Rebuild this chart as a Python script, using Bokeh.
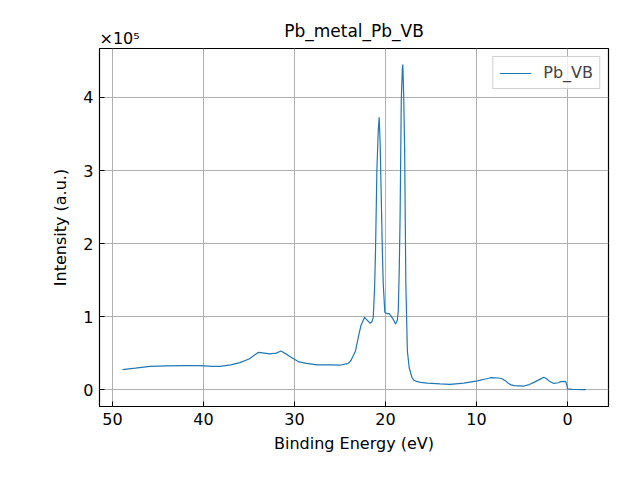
from bokeh.plotting import figure
from bokeh.models import Range1d, FixedTicker, Title, Legend, LegendItem
from bokeh.embed import file_html
from bokeh.resources import INLINE

# Binding energy (eV) and intensity (counts)
binding_energy = [48.9, 47.5, 45.9, 44.0, 42.0, 40.4, 39.0, 38.2, 37.0, 36.0, 35.0,
                  34.0, 33.3, 32.7, 32.0, 31.5, 30.8, 30.2, 29.5, 28.7, 27.5, 26.0,
                  25.0, 24.1, 23.8, 23.3, 22.9, 22.7, 22.3, 22.0, 21.7, 21.5, 21.35,
                  21.2, 21.1, 20.95, 20.8, 20.7, 20.6, 20.5, 20.35, 20.25, 20.08,
                  19.8, 19.6, 19.3, 19.1, 18.9, 18.7, 18.6, 18.5, 18.4, 18.27, 18.15,
                  18.1, 18.0, 17.9, 17.77, 17.6, 17.4, 17.1, 16.9, 16.5, 16.15, 15.4,
                  14.0, 12.9, 11.4, 9.9, 8.9, 8.46, 7.6, 7.2, 6.8, 6.6, 6.2, 5.9,
                  4.8, 4.2, 3.7, 3.0, 2.6, 2.3, 2.05, 1.5, 1.0, 0.77, 0.4, 0.2,
                  0.05, 0.0, -0.5, -1.0, -1.5, -2.0]
intensity = [27400, 29500, 32000, 32500, 33000, 33000, 32000, 32000, 34000, 37000, 42000,
             51000, 50000, 49000, 50000, 53000, 48000, 43000, 38000, 36000, 34000, 34000,
             33500, 36000, 40000, 53000, 77000, 88000, 99000, 95000, 91000, 93000, 99000,
             140000, 190000, 300000, 355000, 373000, 340000, 282000, 190000, 145000, 106000,
             104000, 104000, 99000, 95000, 90000, 95000, 108000, 160000, 236000, 396000, 440000,
             445000, 400000, 327000, 145000, 53000, 30000, 17000, 13000, 11000, 10000, 9000,
             8000, 7300, 9000, 12000, 15000, 16400, 16000, 15000, 12000, 9600, 6500, 5500,
             5000, 7000, 10000, 14500, 17000, 15000, 12000, 8600, 9500, 11000, 11500, 11000,
             5000, 1000, 500, 300, 200, 100]

series_name = "Pb_VB"
x_ticks = [50, 40, 30, 20, 10, 0]
y_ticks = [0, 100000, 200000, 300000, 400000]
y_tick_labels = ["0", "1", "2", "3", "4"]

FONT = "DejaVu Sans"
BLUE = "#1f77b4"

p = figure(width=624, height=464, output_backend="svg", toolbar_location=None,
           x_range=Range1d(51.43, -4.5), y_range=Range1d(-23000, 467000),
           title="Pb_metal_Pb_VB", min_border_left=99, min_border_right=16,
           min_border_top=48, min_border_bottom=58)

p.title.text_font = FONT
p.title.text_font_size = "17px"
p.title.text_font_style = "normal"
p.title.align = "center"
p.title.text_color = "black"
p.title.standoff = -30

line = p.line(binding_energy, intensity, line_color=BLUE, line_width=1.2)

p.xaxis.ticker = FixedTicker(ticks=x_ticks)
p.yaxis.ticker = FixedTicker(ticks=y_ticks)
p.yaxis.major_label_overrides = {t: l for t, l in zip(y_ticks, y_tick_labels)}
p.xaxis.axis_label = "Binding Energy (eV)"
p.yaxis.axis_label = "Intensity (a.u.)"
for ax in (p.xaxis, p.yaxis):
    ax.axis_label_text_font = FONT
    ax.axis_label_text_font_size = "16px"
    ax.axis_label_text_font_style = "normal"
    ax.axis_label_text_color = "black"
    ax.major_label_text_font = FONT
    ax.major_label_text_font_size = "16px"
    ax.major_label_text_color = "black"
    ax.major_tick_in = 5
    ax.major_tick_out = 0
    ax.minor_tick_in = 0
    ax.minor_tick_out = 0
    ax.axis_line_color = None
    ax.major_tick_line_color = "black"
    ax.major_label_standoff = 6
p.yaxis.axis_label_standoff = 10
p.xaxis.axis_label_standoff = 6

p.xgrid.grid_line_color = "#b0b0b0"
p.ygrid.grid_line_color = "#b0b0b0"
p.xgrid.grid_line_width = 1
p.ygrid.grid_line_width = 1
p.outline_line_color = "black"
p.outline_line_width = 1.2
p.background_fill_color = "white"
p.border_fill_color = "white"

legend = Legend(items=[LegendItem(label=series_name, renderers=[line])],
                location="top_right", label_text_font=FONT, label_text_font_size="16px",
                border_line_color="#d0d0d0", border_line_alpha=1.0,
                background_fill_alpha=0.8, glyph_width=32, glyph_height=18,
                padding=6, margin=8, label_standoff=12, label_height=18)
p.add_layout(legend)

# scale factor of the y axis, shown above the top-left corner of the frame
p.add_layout(Title(text="×10⁵", align="left", text_font=FONT, text_font_size="16px",
                   text_font_style="normal", text_color="black", standoff=2,
                   offset=0), "above")

open("out.html", "w").write(file_html(p, INLINE))
